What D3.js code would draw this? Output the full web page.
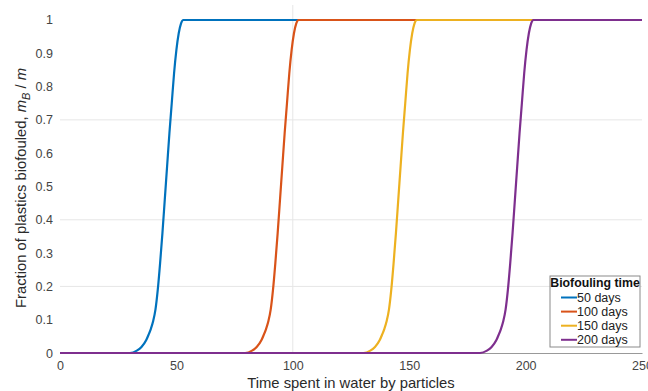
<!DOCTYPE html>
<html>
<head>
<meta charset="utf-8">
<script src="https://cdn.jsdelivr.net/npm/d3@7"></script>
<style>
  html, body { margin: 0; padding: 0; background: #fff; }
  svg { display: block; font-family: "Liberation Sans", Arial, Helvetica, sans-serif; }
</style>
</head>
<body>
<svg id="chart" width="648" height="391"></svg>
<script>
// ---- data ----
const seriesNames = ["50 days", "100 days", "150 days", "200 days"];
const seriesColors = ["#0072BD", "#D95319", "#EDB120", "#7E2F8E"];

const x50  = [0, 30, 33, 35, 37, 38, 39, 40, 41, 42, 43, 44, 45, 46, 47, 48, 49, 50, 51, 52, 53, 250];
const y50  = [0, 0, 0.007, 0.018, 0.038, 0.054, 0.072, 0.095, 0.13, 0.19, 0.27, 0.36, 0.46, 0.56, 0.66, 0.75, 0.84, 0.91, 0.96, 0.99, 1, 1];

const x100 = [0, 79.5, 82.5, 84.5, 86.5, 87.5, 88.5, 89.5, 90.5, 91.5, 92.5, 93.5, 94.5, 95.5, 96.5, 97.5, 98.5, 99.5, 100.5, 101.5, 102.5, 250];
const y100 = [0, 0, 0.007, 0.018, 0.038, 0.054, 0.072, 0.095, 0.13, 0.19, 0.27, 0.36, 0.46, 0.56, 0.66, 0.75, 0.84, 0.91, 0.96, 0.99, 1, 1];

const x150 = [0, 130.3, 133.3, 135.3, 137.3, 138.3, 139.3, 140.3, 141.3, 142.3, 143.3, 144.3, 145.3, 146.3, 147.3, 148.3, 149.3, 150.3, 151.3, 152.3, 153.3, 250];
const y150 = [0, 0, 0.007, 0.018, 0.038, 0.054, 0.072, 0.095, 0.13, 0.19, 0.27, 0.36, 0.46, 0.56, 0.66, 0.75, 0.84, 0.91, 0.96, 0.99, 1, 1];

const x200 = [0, 180.4, 183.4, 185.4, 187.4, 188.4, 189.4, 190.4, 191.4, 192.4, 193.4, 194.4, 195.4, 196.4, 197.4, 198.4, 199.4, 200.4, 201.4, 202.4, 203.4, 250];
const y200 = [0, 0, 0.007, 0.018, 0.038, 0.054, 0.072, 0.095, 0.13, 0.19, 0.27, 0.36, 0.46, 0.56, 0.66, 0.75, 0.84, 0.91, 0.96, 0.99, 1, 1];

const xTicks = [0, 50, 100, 150, 200, 250];
const yTicks = [0, 0.1, 0.2, 0.3, 0.4, 0.5, 0.6, 0.7, 0.8, 0.9, 1];
const yGrid = [0.2, 0.4, 0.7];
const xGrid = [100];

const xLabel = "Time spent in water by particles";
const legendTitle = "Biofouling time";

// ---- layout ----
const W = 648, H = 391;
const margin = { left: 60, right: 6, top: 5, bottom: 38 };
const svg = d3.select("#chart");

const x = d3.scaleLinear().domain([0, 250]).range([margin.left, W - margin.right]);
const y = d3.scaleLinear().domain([0, 1.045]).range([H - margin.bottom, margin.top]);

// grid
svg.append("g").selectAll("line").data(yGrid).join("line")
  .attr("x1", x(0)).attr("x2", x(250))
  .attr("y1", d => y(d)).attr("y2", d => y(d))
  .attr("stroke", "#e6e6e6").attr("stroke-width", 1);
svg.append("g").selectAll("line").data(xGrid).join("line")
  .attr("x1", d => x(d)).attr("x2", d => x(d))
  .attr("y1", y(0)).attr("y2", y(1.045))
  .attr("stroke", "#e6e6e6").attr("stroke-width", 1);

// x axis
const xAxis = svg.append("g")
  .attr("transform", `translate(0,${y(0)})`)
  .call(d3.axisBottom(x).tickValues(xTicks).tickSize(0).tickPadding(8).tickFormat(d3.format("d")));
xAxis.select(".domain").attr("stroke", "#999");
xAxis.selectAll("text").attr("font-size", 12.5).attr("fill", "#444")
  .attr("font-family", "Liberation Sans, Arial, sans-serif");

// y axis
const yAxis = svg.append("g")
  .attr("transform", `translate(${x(0)},0)`)
  .call(d3.axisLeft(y).tickValues(yTicks).tickSize(0).tickPadding(7).tickFormat(d => d === 0 || d === 1 ? d3.format("d")(d) : d3.format(".1f")(d)));
yAxis.select(".domain").remove();
yAxis.selectAll("text").attr("font-size", 12.5).attr("fill", "#444")
  .attr("font-family", "Liberation Sans, Arial, sans-serif");

// lines
const line = d3.line().x(d => x(d[0])).y(d => y(d[1])).curve(d3.curveMonotoneX);
const seriesX = [x50, x100, x150, x200];
const seriesY = [y50, y100, y150, y200];
seriesX.forEach((xs, i) => {
  const pts = xs.map((v, j) => [v, seriesY[i][j]]);
  svg.append("path").datum(pts)
    .attr("d", line)
    .attr("fill", "none")
    .attr("stroke", seriesColors[i])
    .attr("stroke-width", 2.2);
});

// axis titles
svg.append("text")
  .attr("x", 351).attr("y", 388)
  .attr("text-anchor", "middle")
  .attr("font-size", 14.8).attr("fill", "#2a2a2a")
  .text(xLabel);

const yt = svg.append("text")
  .attr("transform", `translate(26,188) rotate(-90)`)
  .attr("text-anchor", "middle")
  .attr("font-size", 14.8).attr("fill", "#2a2a2a");
yt.append("tspan").text("Fraction of plastics biofouled,  ");
yt.append("tspan").attr("font-style", "italic").text("m");
yt.append("tspan").attr("font-style", "italic").attr("font-size", 11).attr("dy", 4).text("B");
yt.append("tspan").attr("dy", -4).text(" / ");
yt.append("tspan").attr("font-style", "italic").text("m");

// legend
const lg = svg.append("g");
const lgX = 550, lgY = 276, lgW = 90, lgH = 71;
lg.append("rect").attr("x", lgX).attr("y", lgY).attr("width", lgW).attr("height", lgH)
  .attr("fill", "#fff").attr("stroke", "#8a8a8a").attr("stroke-width", 1);
lg.append("text").attr("x", lgX + lgW / 2).attr("y", lgY + 11)
  .attr("text-anchor", "middle").attr("font-size", 12.3).attr("font-weight", "bold")
  .attr("fill", "#111").text(legendTitle);
const rows = lg.selectAll("g.row").data(seriesNames).join("g")
  .attr("transform", (d, i) => `translate(${lgX + 11},${lgY + 21.5 + i * 14.1})`);
rows.append("line").attr("x1", 0).attr("x2", 16).attr("y1", 0).attr("y2", 0)
  .attr("stroke", (d, i) => seriesColors[i]).attr("stroke-width", 2);
rows.append("text").attr("x", 16).attr("y", 4.5).attr("font-size", 12.5)
  .attr("fill", "#222").text(d => d);
</script>
</body>
</html>
